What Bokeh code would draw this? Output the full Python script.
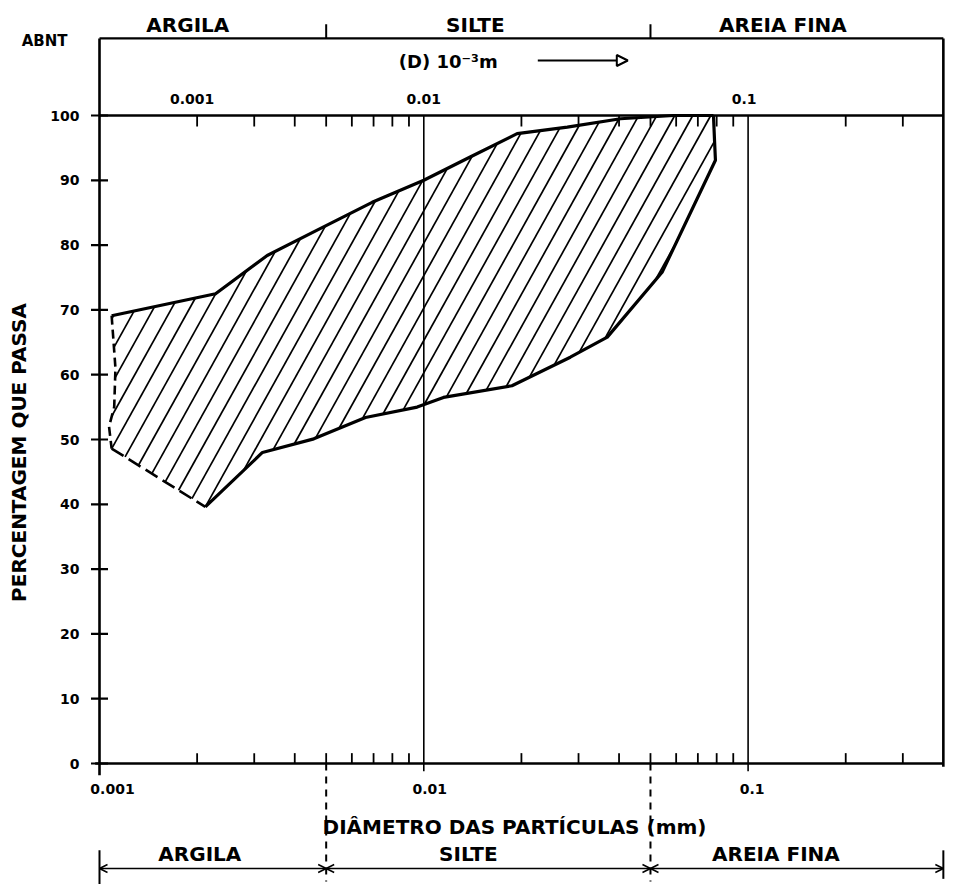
import math
from bokeh.plotting import figure
from bokeh.models import Range1d, ColumnDataSource, Arrow, OpenHead, NormalHead, LogScale
from bokeh.core.properties import value
from bokeh.embed import file_html
from bokeh.resources import INLINE

# ---------------- data ----------------
# upper envelope of the grain-size band (diameter mm, % passing)
upper_d = [0.00109, 0.00228, 0.00329, 0.00469, 0.00693, 0.0100, 0.0139, 0.0194, 0.0277, 0.0404, 0.0589, 0.0782]
upper_p = [69.1, 72.5, 78.4, 82.3, 86.6, 90.0, 93.6, 97.2, 98.2, 99.5, 100.0, 100.0]
# lower envelope (solid part), left to right, ending up the right edge
lower_d = [0.00212, 0.00318, 0.00458, 0.00661, 0.00954, 0.0115, 0.0187, 0.0283, 0.0368, 0.0543, 0.0793, 0.0788, 0.0782]
lower_p = [39.6, 48.0, 50.1, 53.4, 55.0, 56.5, 58.3, 62.7, 65.8, 75.8, 93.1, 96.1, 100.0]
# uncertain (dashed) parts of the band
lower_left_d = [0.00109, 0.00212]
lower_left_p = [48.6, 39.6]
left_edge_d = [0.00109, 0.00112, 0.00111, 0.00107, 0.00109]
left_edge_p = [69.1, 61.0, 55.0, 52.0, 48.6]

y_ticks = [0, 10, 20, 30, 40, 50, 60, 70, 80, 90, 100]
y_tick_labels = ["0", "10", "20", "30", "40", "50", "60", "70", "80", "90", "100"]
x_major = [0.001, 0.01, 0.1]
x_major_labels = ["0.001", "0.01", "0.1"]
x_minor = [0.002, 0.003, 0.004, 0.005, 0.006, 0.007, 0.008, 0.009,
           0.02, 0.03, 0.04, 0.05, 0.06, 0.07, 0.08, 0.09, 0.2, 0.3]
top_label_pos = [0.002, 0.01, 0.1]
top_labels = ["0.001", "0.01", "0.1"]
class_names = ["ARGILA", "SILTE", "AREIA FINA"]
class_bounds = [0.001, 0.005, 0.05, 0.4]

# ---------------- layout ----------------
W, H = 953, 884
PX_DEC = 324.3          # pixels per decade
PX_UNIT = 6.48          # pixels per percent
X0_PX = 99              # screen x of d = 0.001
Y0_PX = 763             # screen y of 0 %
BOX_TOP = 111.9         # top of the ABNT header box (in % units)
ARROW_Y = -16.2
FONT = value("DejaVu Sans")

x_lo = 10 ** (-3 - X0_PX / PX_DEC)
x_hi = 10 ** (-3 + (W - X0_PX) / PX_DEC)
y_lo = -(H - Y0_PX) / PX_UNIT
y_hi = Y0_PX / PX_UNIT


def shift(x, px):
    return x * 10 ** (px / PX_DEC)


p = figure(width=W, height=H, x_axis_type="log", x_axis_location=None, y_axis_location=None,
           x_range=Range1d(x_lo, x_hi), y_range=Range1d(y_lo, y_hi),
           output_backend="svg", toolbar_location=None, min_border=0)
p.x_scale = LogScale()
p.grid.visible = False
p.outline_line_color = None
p.background_fill_color = "white"
p.border_fill_color = "white"

K = "black"

# ---------------- hatching computed from the band polygon ----------------
poly = list(zip(upper_d, upper_p)) + list(zip(lower_d, lower_p))[::-1][1:] \
    + [(lower_left_d[0], lower_left_p[0])] + list(zip(left_edge_d, left_edge_p))[::-1][1:-1]
P = [(math.log10(d) * PX_DEC, v * PX_UNIT) for d, v in poly]
m = 1.8
spacing = 18.0
cs = [X - Y / m for X, Y in P]
c_ref = math.log10(lower_d[0]) * PX_DEC - lower_p[0] * PX_UNIT / m
k0 = math.floor((min(cs) - c_ref) / spacing)
k1 = math.ceil((max(cs) - c_ref) / spacing)
hx, hy = [], []
for k in range(k0, k1 + 1):
    c = c_ref + k * spacing
    pts = []
    n = len(P)
    for i in range(n):
        X1, Y1 = P[i]
        X2, Y2 = P[(i + 1) % n]
        f1 = Y1 - m * (X1 - c)
        f2 = Y2 - m * (X2 - c)
        if (f1 > 0 and f2 <= 0) or (f1 <= 0 and f2 > 0):
            t = f1 / (f1 - f2)
            pts.append((X1 + t * (X2 - X1), Y1 + t * (Y2 - Y1)))
    pts.sort()
    for j in range(0, len(pts) - 1, 2):
        (xa, ya), (xb, yb) = pts[j], pts[j + 1]
        hx.append([10 ** (xa / PX_DEC), 10 ** (xb / PX_DEC)])
        hy.append([ya / PX_UNIT, yb / PX_UNIT])
p.multi_line(hx, hy, line_color=K, line_width=1.7)

# ---------------- frame & grid ----------------
p.segment(x0=[x_major[0], class_bounds[-1]], y0=[-1.8, -0.5],
          x1=[x_major[0], class_bounds[-1]], y1=[BOX_TOP, BOX_TOP], line_color=K, line_width=2.6)
p.segment(x0=[x_major[0], x_major[0], 0.00097], y0=[100, BOX_TOP, 0],
          x1=[class_bounds[-1]] * 3, y1=[100, BOX_TOP, 0], line_color=K, line_width=2.3)
p.segment(x0=x_major[1:], y0=[-1.2] * 2, x1=x_major[1:], y1=[100] * 2, line_color=K, line_width=1.6)

# ticks
p.scatter(x=[x_major[0]] * len(y_ticks), y=y_ticks, marker="dash", size=17, line_width=2.2, line_color=K)
p.segment(x0=x_minor, y0=[0] * len(x_minor), x1=x_minor, y1=[1.6] * len(x_minor), line_color=K, line_width=1.8)
p.segment(x0=x_minor, y0=[100] * len(x_minor), x1=x_minor, y1=[98.3] * len(x_minor), line_color=K, line_width=1.8)
p.segment(x0=class_bounds[1:3], y0=[BOX_TOP] * 2, x1=class_bounds[1:3], y1=[BOX_TOP + 2.2] * 2,
          line_color=K, line_width=2)

# ---------------- band outline ----------------
p.line(upper_d, upper_p, line_color=K, line_width=3.2, line_join="round")
p.line(lower_d, lower_p, line_color=K, line_width=3.2, line_join="round")
p.line(lower_left_d, lower_left_p, line_color=K, line_width=2.6, line_dash="14 6")
p.line(left_edge_d, left_edge_p, line_color=K, line_width=2.6, line_dash="9 5")

# ---------------- classification (bottom) ----------------
p.segment(x0=class_bounds[1:3], y0=[0] * 2, x1=class_bounds[1:3], y1=[-18.2] * 2,
          line_color=K, line_width=2, line_dash="7 6")
p.segment(x0=[class_bounds[0], class_bounds[-1]], y0=[-13.4] * 2,
          x1=[class_bounds[0], class_bounds[-1]], y1=[-18.6, -17.8], line_color=K, line_width=2)
arr_src = ColumnDataSource(dict(x0=class_bounds[:-1], x1=class_bounds[1:], y=[ARROW_Y] * 3))
p.add_layout(Arrow(start=OpenHead(size=8, line_width=1.5), end=OpenHead(size=8, line_width=1.5),
                   x_start="x0", y_start="y", x_end="x1", y_end="y", source=arr_src,
                   line_width=1.5, line_color=K))

centers = [math.sqrt(a * b) for a, b in zip(class_bounds[:-1], class_bounds[1:])]
bold = dict(text_font=FONT, text_font_style="bold", text_color=K)

p.text(x=centers, y=[ARROW_Y] * 3, text=class_names, x_offset=[-13, -20, -21], y_offset=-14,
       text_align="center", text_baseline="middle", text_font_size="20px", **bold)
p.text(x=centers, y=[BOX_TOP] * 3, text=class_names, x_offset=[-25, -13, -14], y_offset=-13,
       text_align="center", text_baseline="middle", text_font_size="20px", **bold)

# ---------------- tick labels & titles ----------------
p.text(x=[x_major[0]] * len(y_ticks), y=y_ticks, text=y_tick_labels, x_offset=-20,
       text_align="right", text_baseline="middle", text_font_size="14px", **bold)
p.text(x=x_major, y=[0] * 3, text=x_major_labels, x_offset=[13, 6, 4], y_offset=25,
       text_align="center", text_baseline="middle", text_font_size="14px", **bold)
p.text(x=top_label_pos, y=[100] * 3, text=top_labels, x_offset=[-5, 0, -4], y_offset=-17,
       text_align="center", text_baseline="middle", text_font_size="14px", **bold)
p.text(x=[x_major[0]], y=[BOX_TOP], text=["ABNT"], x_offset=-32, y_offset=3,
       text_align="right", text_baseline="middle", text_font_size="15px", **bold)
p.text(x=[x_major[1]], y=[100], text=["(D) 10⁻³m"], x_offset=-25, y_offset=-54,
       text_align="left", text_baseline="middle", text_font_size="18px", **bold)
p.add_layout(Arrow(end=NormalHead(size=11, line_width=2, fill_color="white", line_color=K),
                   x_start=shift(x_major[1], 114), y_start=100 + 55 / PX_UNIT,
                   x_end=shift(x_major[1], 204), y_end=100 + 55 / PX_UNIT,
                   line_width=2, line_color=K))
p.text(x=[shift(x_major[0], 415)], y=[0], text=["DIÂMETRO DAS PARTÍCULAS (mm)"], y_offset=63,
       text_align="center", text_baseline="middle", text_font_size="20px", **bold)
p.text(x=[x_major[0]], y=[(Y0_PX - 452) / PX_UNIT], text=["PERCENTAGEM QUE PASSA"], x_offset=-81,
       angle=math.pi / 2, text_align="center", text_baseline="middle", text_font_size="20px", **bold)

open("out.html", "w").write(file_html(p, INLINE))
